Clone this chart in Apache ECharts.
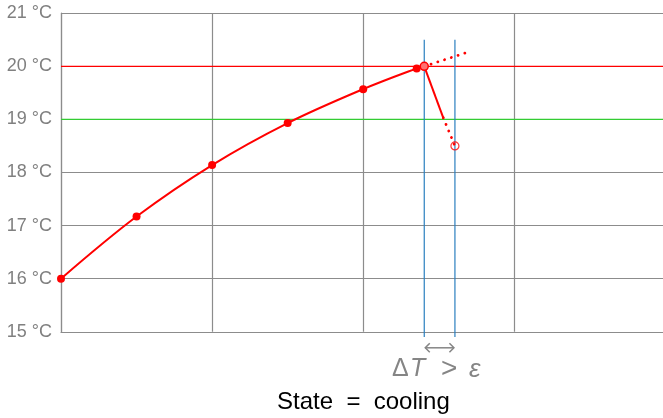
<!DOCTYPE html>
<html>
<head>
<meta charset="utf-8">
<script src="https://cdn.jsdelivr.net/npm/echarts@6/dist/echarts.min.js"></script>
<style>
  html, body { margin: 0; padding: 0; background: #fff; }
  #chart { width: 663px; height: 418px; }
</style>
</head>
<body>
<div id="chart"></div>
<script>
// Room temperature history (time in hours, temperature in °C)
const times = [0, 0.5, 1, 1.5, 2, 2.354, 2.404];
const temps = [16.0, 17.17, 18.14, 18.93, 19.57, 19.96, 20.0];

// Extrapolated trend if heating continued
const trendTimes = [2.404, 2.686];
const trendTemps = [20.0, 20.26];

// Cooling step: solid part, then dotted projection to the predicted point
const coolSolidTimes = [2.404, 2.53];
const coolSolidTemps = [20.0, 19.03];
const coolDotTimes = [2.53, 2.607];
const coolDotTemps = [19.03, 18.5];

// Set points
const upperSet = 20;
const lowerSet = 19;

// Decision instants (vertical markers) and their extent
const markTimes = [2.404, 2.607];
const markTop = 20.5;
const markBottom = 14.9;

// Axes (the time axis is cut at the right edge of the page)
const xMin = 0, xMax = 3.984;
const yMin = 15, yMax = 21;
const yTickLabels = ['15', '16', '17', '18', '19', '20', '21'];

const FONT = '"Liberation Sans", Arial, Helvetica, sans-serif';
const GRID_COLOR = '#8c8c8c';
const RED = '#ff0000';

const zip = (xs, ys) => xs.map((x, i) => [x, ys[i]]);

const mainData = zip(times, temps).map((p, i, arr) => {
  if (i === arr.length - 1) {
    return { value: p, itemStyle: { color: '#ff7070', borderColor: RED, borderWidth: 1.5 } };
  }
  return p;
});

const dotStyle = { color: RED, width: 2.8, type: [0.1, 7], cap: 'round' };

const series = [
  // set-point lines
  {
    type: 'line', data: [[xMin, upperSet], [xMax, upperSet]], symbol: 'none',
    lineStyle: { color: RED, width: 1.3 }, silent: true, z: 2
  },
  {
    type: 'line', data: [[xMin, lowerSet], [xMax, lowerSet]], symbol: 'none',
    lineStyle: { color: '#33cc33', width: 1.3 }, silent: true, z: 2
  },
  // decision markers
  ...markTimes.map(t => ({
    type: 'line', data: [[t, markTop], [t, markBottom]], symbol: 'none', clip: false,
    lineStyle: { color: '#2a7fbf', width: 1.2 }, silent: true, z: 3
  })),
  // temperature curve
  {
    type: 'line', data: mainData, smooth: 0.35, symbol: 'circle', symbolSize: 8,
    lineStyle: { color: RED, width: 2 }, itemStyle: { color: RED }, z: 5
  },
  // projected trend
  {
    type: 'line', data: zip(trendTimes, trendTemps), symbol: 'none',
    lineStyle: dotStyle, z: 4
  },
  // cooling step
  {
    type: 'line', data: zip(coolSolidTimes, coolSolidTemps), symbol: 'none',
    lineStyle: { color: RED, width: 2 }, z: 4
  },
  {
    type: 'line', data: zip(coolDotTimes, coolDotTemps), symbol: 'none',
    lineStyle: dotStyle, z: 4
  },
  // predicted temperature
  {
    type: 'scatter', data: [[coolDotTimes[1], coolDotTemps[1]]], symbol: 'circle', symbolSize: 8,
    itemStyle: { color: 'rgba(255,255,255,0)', borderColor: RED, borderWidth: 1.2 }, z: 6
  }
];

const chart = echarts.init(document.getElementById('chart'), null, { renderer: 'canvas' });

chart.setOption({
  animation: false,
  backgroundColor: '#fff',
  grid: { left: 61, top: 13.2, right: 0, height: 318.6, containLabel: false },
  xAxis: {
    type: 'value', min: xMin, max: xMax, interval: 1,
    axisLine: { show: true, lineStyle: { color: GRID_COLOR, width: 1.2 } },
    axisTick: { show: false },
    axisLabel: { show: false },
    splitLine: { show: true, showMaxLine: false, lineStyle: { color: GRID_COLOR, width: 1.2 } }
  },
  yAxis: {
    type: 'value', min: yMin, max: yMax, interval: 1,
    axisLine: { show: true, lineStyle: { color: GRID_COLOR, width: 1.2 } },
    axisTick: { show: false },
    axisLabel: {
      margin: 9, color: '#808080', fontSize: 18, fontFamily: FONT,
      formatter: v => yTickLabels[Math.round(v - yMin)] + ' °C'
    },
    splitLine: { show: true, lineStyle: { color: GRID_COLOR, width: 1.2 } }
  },
  series
});

// Annotation below the axis: ΔT arrow between the two markers, the condition, and the state
const xa = chart.convertToPixel({ gridIndex: 0 }, [markTimes[0], yMin]);
const xb = chart.convertToPixel({ gridIndex: 0 }, [markTimes[1], yMin]);
const axisY = xa[1];
const arrowY = axisY + 16;
const gray = '#858585';
const head = 4.5;

const mathText = (text, x, italic, size) => ({
  type: 'text', left: x, top: 357 - (size - 25) / 2,
  style: { text, fontSize: size, fontFamily: FONT, fontStyle: italic ? 'italic' : 'normal', fill: gray }
});

chart.setOption({
  graphic: [
    {
      type: 'line', shape: { x1: xa[0] + 1, y1: arrowY, x2: xb[0] - 1, y2: arrowY },
      style: { stroke: gray, lineWidth: 1.5 }
    },
    {
      type: 'polyline', shape: { points: [[xa[0] + head + 1, arrowY - head], [xa[0] + 1, arrowY], [xa[0] + head + 1, arrowY + head]] },
      style: { stroke: gray, lineWidth: 1.5, fill: null }
    },
    {
      type: 'polyline', shape: { points: [[xb[0] - head - 1, arrowY - head], [xb[0] - 1, arrowY], [xb[0] - head - 1, arrowY + head]] },
      style: { stroke: gray, lineWidth: 1.5, fill: null }
    },
    mathText('Δ', 392, false, 25),
    mathText('T', 410, true, 25),
    mathText('>', 441, false, 28),
    mathText('ε', 469, true, 26),
    {
      type: 'text', left: 277, top: 390,
      style: { text: 'State  =  cooling', fontSize: 24, fontFamily: FONT, fill: '#000' }
    }
  ]
});
</script>
</body>
</html>
